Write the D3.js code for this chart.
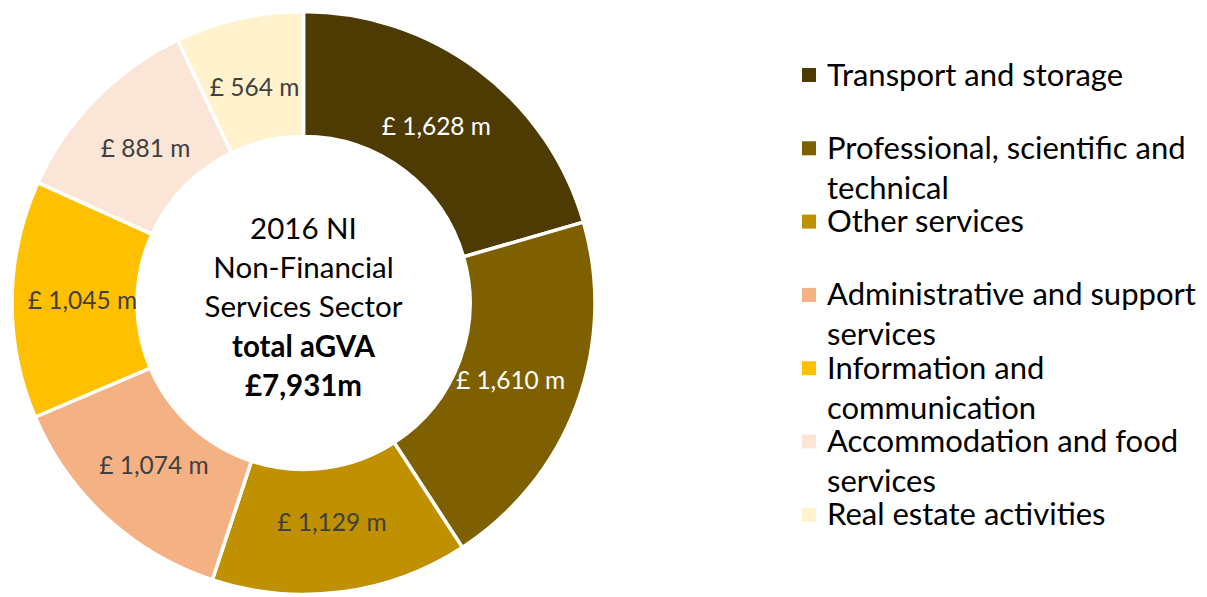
<!DOCTYPE html>
<html>
<head>
<meta charset="utf-8">
<script src="https://cdn.jsdelivr.net/npm/d3@7"></script>
<style>
  html, body { margin: 0; padding: 0; background: #ffffff; }
  svg { display: block; }
  text { font-family: Lato, "Open Sans", sans-serif; }
</style>
</head>
<body>
<svg id="chart" width="1207" height="597"></svg>
<script>
// ---- data ----
const categories = [
  "Transport and storage",
  "Professional, scientific and technical",
  "Other services",
  "Administrative and support services",
  "Information and communication",
  "Accommodation and food services",
  "Real estate activities"
];
const values = [1628, 1610, 1129, 1074, 1045, 881, 564];
const colors = ["#4E3B03", "#7F6000", "#BF9000", "#F4B183", "#FFC000", "#FBE5D6", "#FFF2CC"];
const labelColors = ["#FFFFFF", "#FFFFFF", "#404040", "#404040", "#404040", "#404040", "#404040"];
const centerLines = ["2016 NI", "Non-Financial", "Services Sector", "total aGVA", "£7,931m"];
const centerBold = [false, false, false, true, true];

// ---- layout ----
const cx = 303.5, cy = 303, outerR = 291.5, innerR = 166.5, labelR = 221;
const svg = d3.select("#chart");

const pie = d3.pie().sort(null).value(d => d.value).startAngle(0).endAngle(2 * Math.PI);
const data = categories.map((c, i) => ({ name: c, value: values[i], color: colors[i], lc: labelColors[i] }));
const arcs = pie(data);

const arc = d3.arc().innerRadius(innerR).outerRadius(outerR);
const labelArc = d3.arc().innerRadius(labelR).outerRadius(labelR);

const g = svg.append("g").attr("transform", `translate(${cx},${cy})`);

g.selectAll("path.slice")
  .data(arcs)
  .join("path")
  .attr("class", "slice")
  .attr("d", arc)
  .attr("fill", d => d.data.color)
  .attr("stroke", "#ffffff")
  .attr("stroke-width", 3.5)
  .attr("stroke-linejoin", "miter");

const fmt = d3.format(",");
g.selectAll("text.val")
  .data(arcs)
  .join("text")
  .attr("class", "val")
  .attr("transform", d => `translate(${labelArc.centroid(d)})`)
  .attr("text-anchor", "middle")
  .attr("dy", "0.35em")
  .attr("font-size", 24.5)
  .attr("fill", d => d.data.lc)
  .text(d => `£ ${fmt(d.data.value)} m`);

// center text
const ct = g.append("g");
const centerBase = [-64, -25, 14, 53.5, 93];
centerLines.forEach((t, i) => {
  ct.append("text")
    .attr("x", 0)
    .attr("y", centerBase[i])
    .attr("text-anchor", "middle")
    .attr("font-size", 29.5)
    .attr("font-weight", centerBold[i] ? "bold" : "normal")
    .attr("fill", "#000000")
    .text(t);
});

// legend
const legX = 802, legTextX = 827, legTop = 75, legStep = 73.3, lineH = 40, sq = 14, maxW = 380;
const legFont = 31;
const leg = svg.append("g");

function wrap(text, fontSize) {
  const words = text.split(" ");
  const tmp = leg.append("text").attr("font-size", fontSize);
  const lines = [];
  let line = [];
  words.forEach(w => {
    line.push(w);
    tmp.text(line.join(" "));
    if (tmp.node().getComputedTextLength() > maxW && line.length > 1) {
      line.pop();
      lines.push(line.join(" "));
      line = [w];
    }
  });
  lines.push(line.join(" "));
  tmp.remove();
  return lines;
}

data.forEach((d, i) => {
  const yc = legTop + i * legStep;
  leg.append("rect")
    .attr("x", legX).attr("y", yc - sq / 2)
    .attr("width", sq).attr("height", sq)
    .attr("fill", d.color);
  const lines = wrap(d.name, legFont);
  lines.forEach((ln, j) => {
    leg.append("text")
      .attr("x", legTextX)
      .attr("y", yc + j * lineH + 10.5)
      .attr("font-size", legFont)
      .attr("fill", "#000000")
      .text(ln);
  });
});
</script>
</body>
</html>
